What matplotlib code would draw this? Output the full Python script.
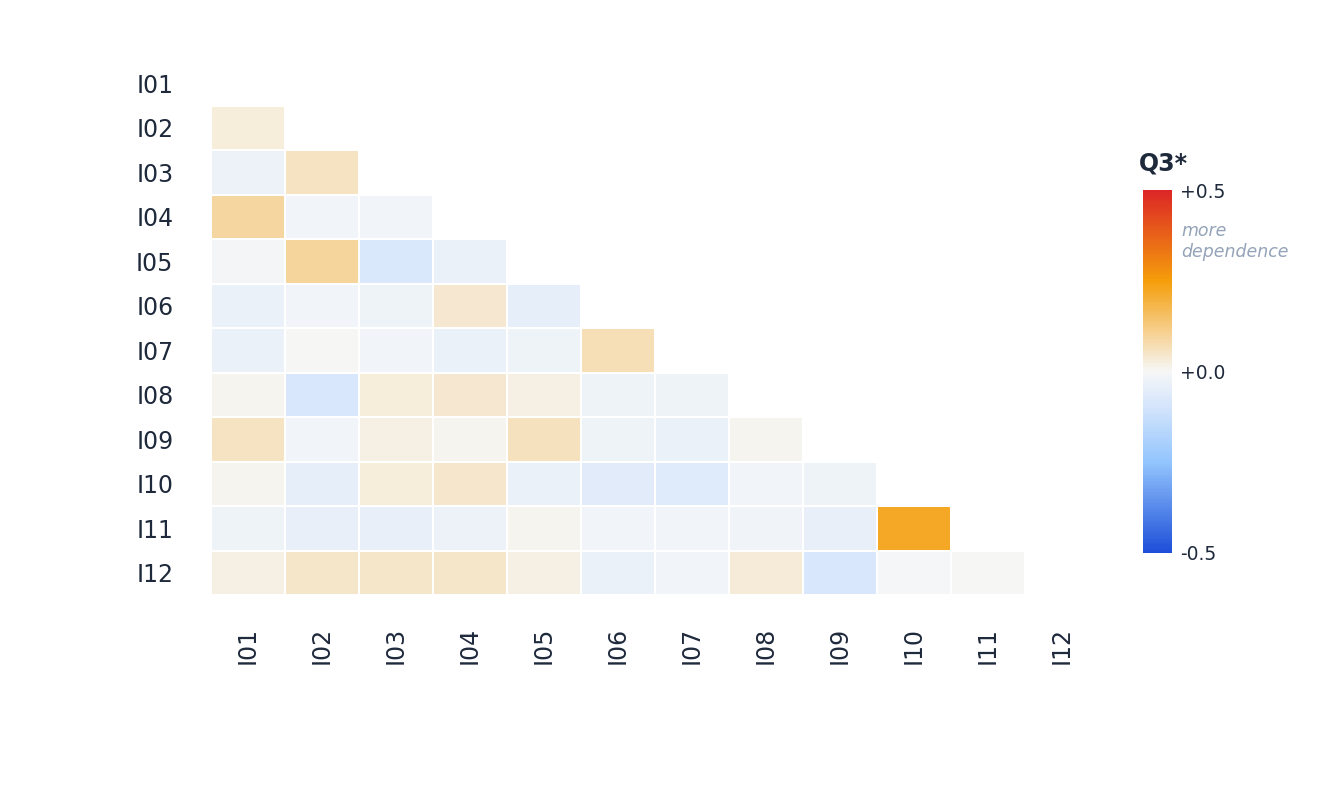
import numpy as np
import matplotlib as mpl
mpl.use('agg')
import matplotlib.pyplot as plt
from matplotlib.colors import LinearSegmentedColormap

items = ["I01", "I02", "I03", "I04", "I05", "I06", "I07", "I08", "I09", "I10", "I11", "I12"]

# lower triangle of Q3* residual correlations, row item vs earlier items
q3_rows = [
    [],
    [0.03],
    [-0.025, 0.055],
    [0.09, -0.015, -0.015],
    [-0.008, 0.095, -0.08, -0.035],
    [-0.035, -0.012, -0.022, 0.04, -0.05],
    [-0.035, 0.0, -0.015, -0.035, -0.022, 0.07],
    [0.01, -0.085, 0.03, 0.04, 0.02, -0.02, -0.022],
    [0.055, -0.012, 0.02, 0.01, 0.06, -0.022, -0.035, 0.01],
    [0.01, -0.05, 0.03, 0.045, -0.035, -0.06, -0.065, -0.012, -0.02],
    [-0.02, -0.04, -0.04, -0.025, 0.01, -0.012, -0.015, -0.018, -0.04, 0.22],
    [0.02, 0.05, 0.05, 0.05, 0.02, -0.035, -0.012, 0.035, -0.085, -0.005, 0.0],
]

n = len(items)
mat = np.full((n, n), np.nan)
for i, row in enumerate(q3_rows):
    for j, v in enumerate(row):
        mat[i, j] = v
mat = np.ma.masked_invalid(mat)

text_col = "#1e293b"
cmap = LinearSegmentedColormap.from_list(
    "q3", [(0.0, "#1d4ed8"), (0.25, "#93c5fd"), (0.4, "#d3e4fc"), (0.5, "#f6f7f7"),
           (0.75, "#f59e0b"), (1.0, "#dc2626")])

fig = plt.figure(figsize=(13.44, 8.06), dpi=100)
ax = fig.add_axes([211 / 1344, 1 - 595 / 806, 888 / 1344, 534 / 806])

mesh = ax.pcolormesh(np.arange(n + 1), np.arange(n + 1), mat, cmap=cmap,
                     vmin=-0.5, vmax=0.5, edgecolors="white", linewidth=1.2)
ax.set_xlim(0, n)
ax.set_ylim(n, 0)
ax.set_xticks(np.arange(n) + 0.5)
ax.set_yticks(np.arange(n) + 0.5)
ax.set_xticklabels(items, rotation=90, fontsize=17, color=text_col)
ax.set_yticklabels(items, fontsize=17, color=text_col)
ax.tick_params(length=0)
ax.tick_params(axis="x", pad=23)
ax.tick_params(axis="y", pad=27)
for s in ax.spines.values():
    s.set_visible(False)

cax = fig.add_axes([1143 / 1344, 1 - 553 / 806, 29 / 1344, 363 / 806])
cb = fig.colorbar(mesh, cax=cax)
cb.outline.set_visible(False)
cb.set_ticks([-0.5, 0.0, 0.5])
cb.set_ticklabels(["-0.5", "+0.0", "+0.5"])
cax.tick_params(length=0, pad=6, labelsize=13.5, labelcolor=text_col)

fig.text(1139 / 1344, 1 - 164 / 806, "Q3*", fontsize=17, fontweight="bold",
         color=text_col, va="center", ha="left")
fig.text(1181 / 1344, 1 - 231 / 806, "more", fontsize=12.5, style="italic",
         color="#94a3b8", va="center", ha="left")
fig.text(1181 / 1344, 1 - 252 / 806, "dependence", fontsize=12.5, style="italic",
         color="#94a3b8", va="center", ha="left")

plt.savefig("out.png", dpi=100)
